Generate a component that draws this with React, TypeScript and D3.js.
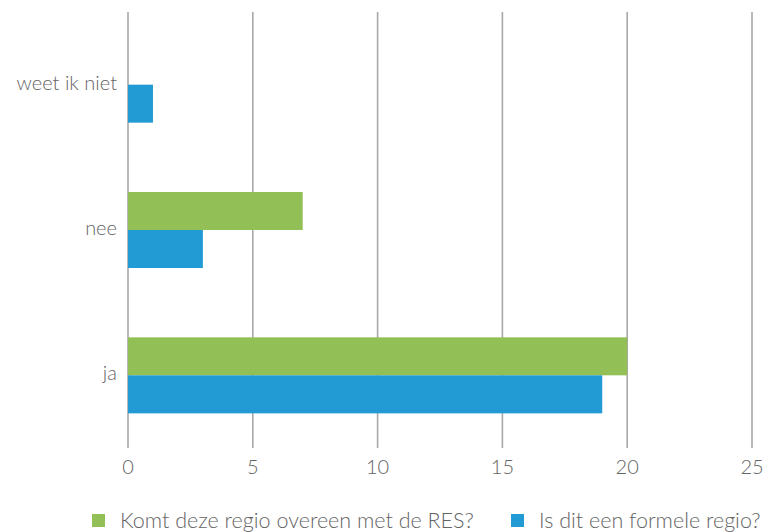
import React from "react";
import * as d3 from "d3";

// Answer categories, top to bottom
const categories = ["weet ik niet", "nee", "ja"];
// Series
const seriesNames = ["Komt deze regio overeen met de RES?", "Is dit een formele regio?"];
const seriesColors = ["#93BF57", "#229AD3"];
const greenValues = [0, 7, 20];
const blueValues = [1, 3, 19];
const xTicks = [0, 5, 10, 15, 20, 25];

const W = 768;
const H = 532;
const FONT = "Lato, 'Open Sans', sans-serif";
const TEXT = "#646464";

export default function App() {
  const left = 128;
  const right = 752;
  const top = 12;
  const bottom = 448;

  const x = d3.scaleLinear().domain([0, 25]).range([left, right]);
  const y = d3
    .scaleBand<string>()
    .domain(categories)
    .range([top, bottom])
    .paddingInner(0.477)
    .paddingOuter(0.2385);
  const sub = d3.scaleBand<number>().domain([0, 1]).range([0, y.bandwidth()]);

  const series = [greenValues, blueValues];

  return (
    <svg width={W} height={H} style={{ position: "absolute", left: 0, top: 0 }}>
      <rect width={W} height={H} fill="#fff" />
      {xTicks.map((t) => (
        <g key={t}>
          <line x1={x(t)} x2={x(t)} y1={top} y2={bottom} stroke="#a8a8a8" strokeWidth={1.6} />
          <text
            x={x(t)}
            y={474}
            textAnchor="middle"
            fontFamily={FONT}
            fontSize={20}
            fontWeight={300}
            fill={TEXT}
          >
            {t}
          </text>
        </g>
      ))}
      {categories.map((c, i) => (
        <g key={c}>
          {series.map((vals, s) => (
            <rect
              key={s}
              x={x(0)}
              y={(y(c) as number) + (sub(s) as number)}
              width={x(vals[i]) - x(0)}
              height={sub.bandwidth()}
              fill={seriesColors[s]}
            />
          ))}
          <text
            x={117}
            y={(y(c) as number) + y.bandwidth() / 2}
            textAnchor="end"
            dominantBaseline="middle"
            fontFamily={FONT}
            fontSize={20}
            fontWeight={300}
            fill={TEXT}
          >
            {c}
          </text>
        </g>
      ))}
      {/* legend */}
      {seriesNames.map((n, s) => {
        const lx = s === 0 ? 92 : 511;
        return (
          <g key={n}>
            <rect x={lx} y={514} width={13} height={13} fill={seriesColors[s]} />
            <text x={lx + 28} y={528} fontFamily={FONT} fontSize={21.5} fontWeight={300} fill={TEXT}>
              {n}
            </text>
          </g>
        );
      })}
    </svg>
  );
}
